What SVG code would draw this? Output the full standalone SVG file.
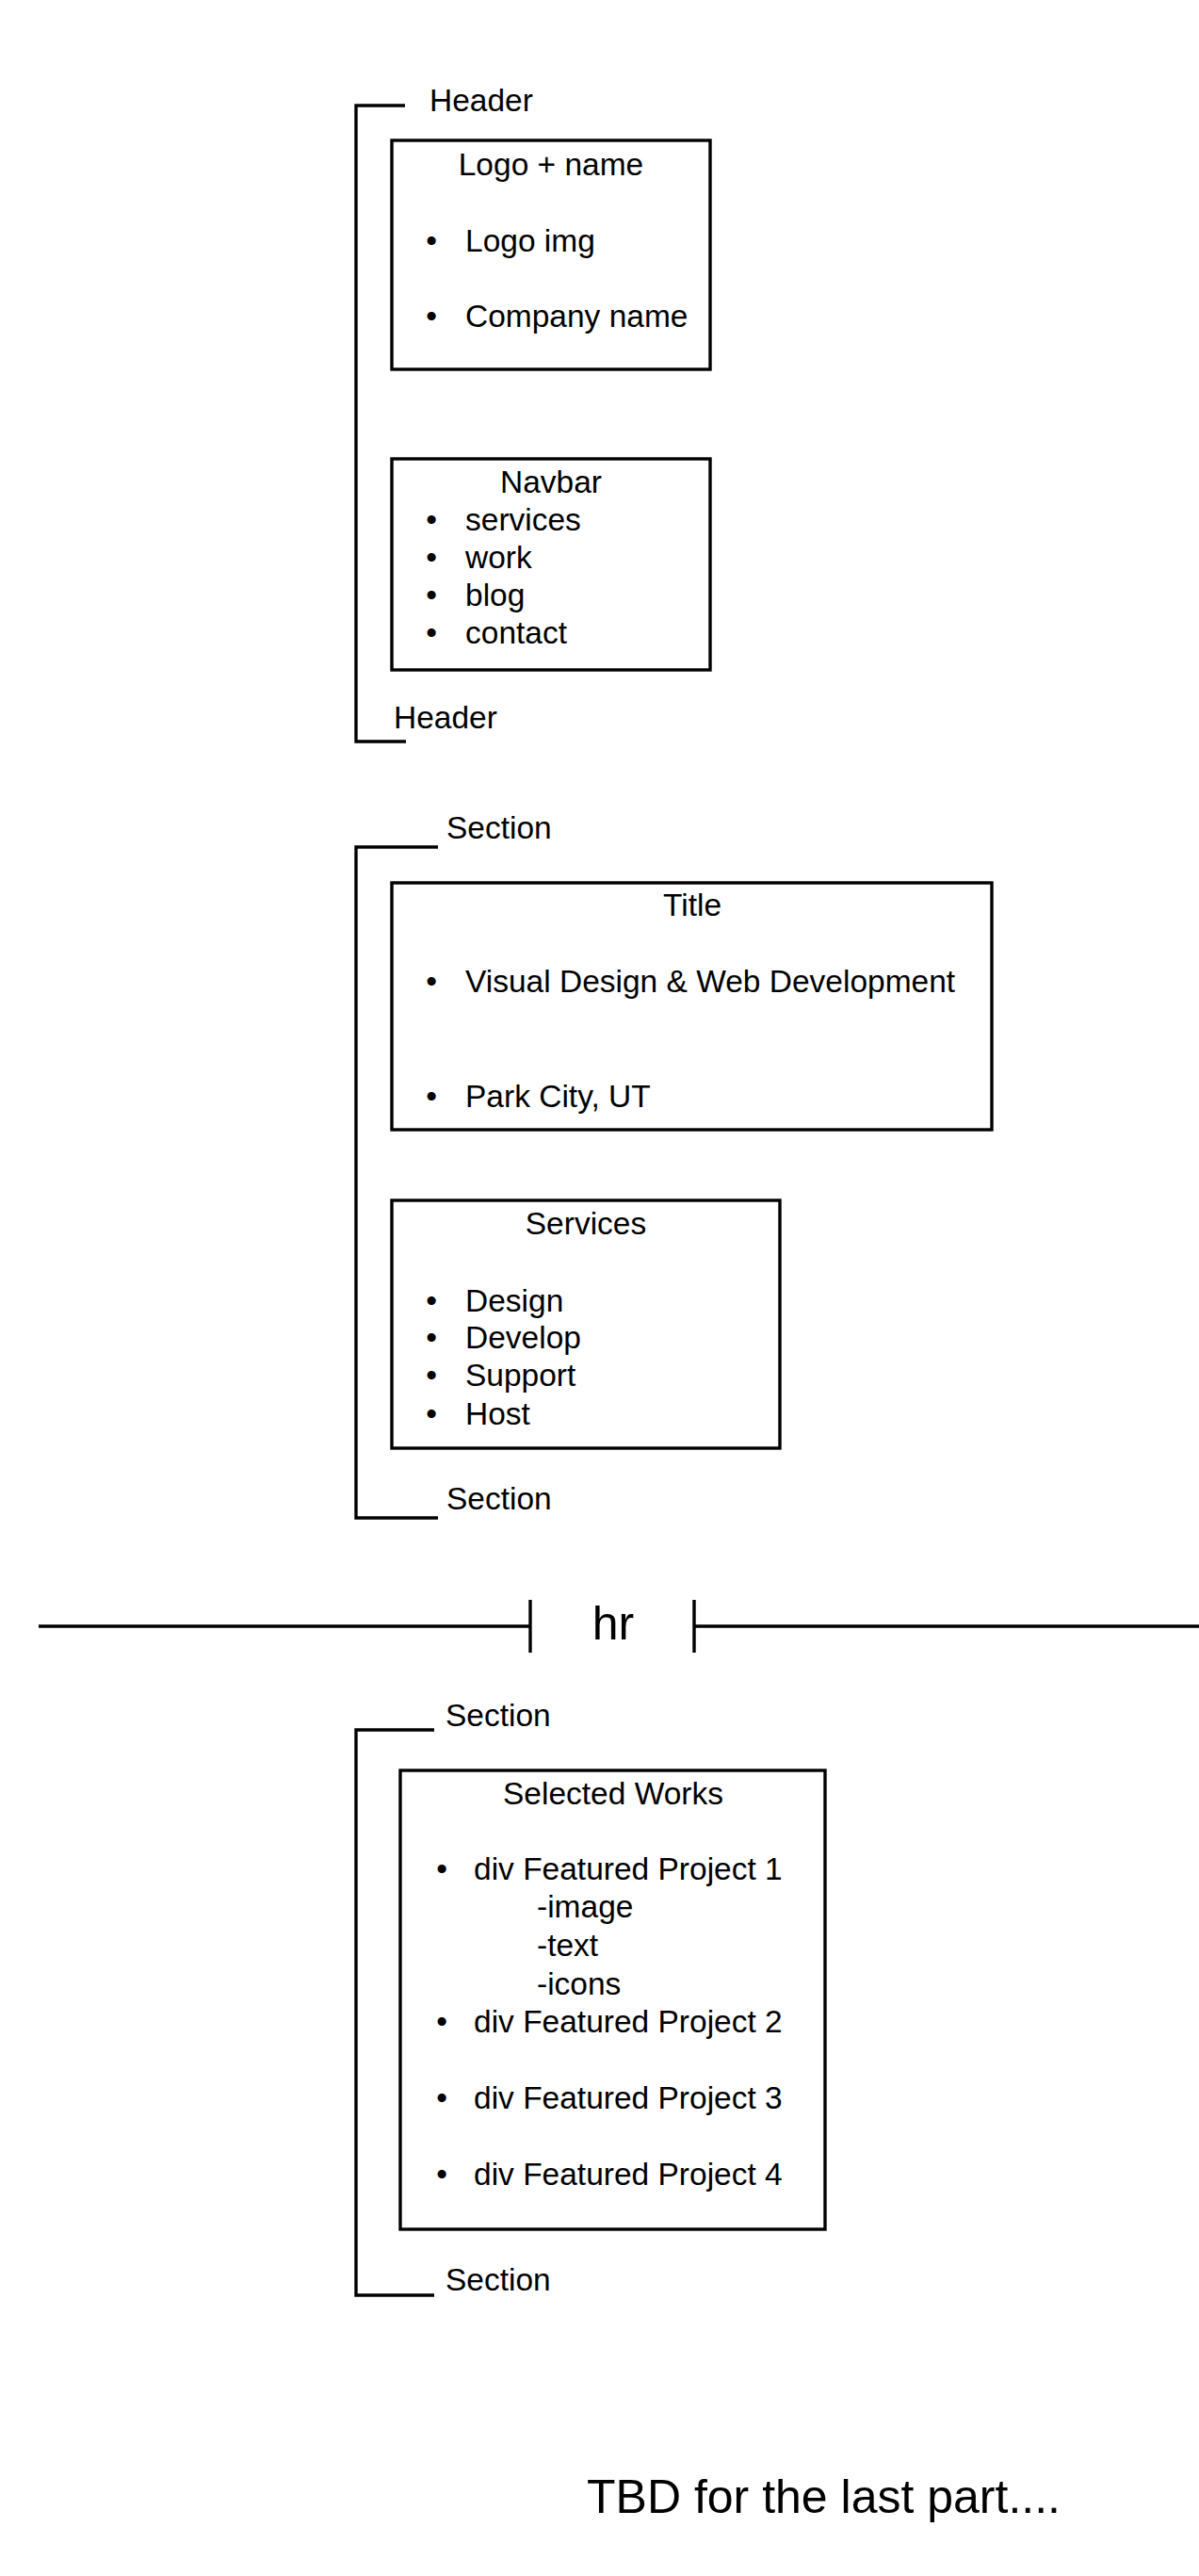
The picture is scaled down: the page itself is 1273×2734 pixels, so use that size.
<svg xmlns="http://www.w3.org/2000/svg" width="1273" height="2734" viewBox="0 0 1273 2734">
<style>
text { font-family: "Liberation Sans", Arial, sans-serif; font-size: 33.5px; fill: #000; }
.c { text-anchor: middle; }
.big { font-size: 50px; }
.box { fill: #fff; stroke: #000; stroke-width: 3.4; }
.ln { fill: none; stroke: #000; stroke-width: 3.4; }
</style>
<rect width="1273" height="2734" fill="#fff"/>
<g id="connectors">
  <path class="ln" d="M430 112 H378 V787 H431"/>
  <path class="ln" d="M465 899 H378 V1611 H465"/>
  <path class="ln" d="M461 1836 H378 V2436 H461"/>
  <path class="ln" d="M41 1726 H563 M737 1726 H1273"/>
  <path class="ln" d="M563 1698 V1754 M737 1698 V1754"/>
</g>
<g id="header-labels">
  <text x="456" y="118">Header</text>
  <text x="418" y="773">Header</text>
</g>
<g id="logo-name">
  <rect class="box" x="416" y="149" width="338" height="243"/>
  <text class="c" x="585" y="186">Logo + name</text>
  <text class="c" x="458" y="267">•</text><text x="494" y="267">Logo img</text>
  <text class="c" x="458" y="347">•</text><text x="494" y="347">Company name</text>
</g>
<g id="navbar">
  <rect class="box" x="416" y="487" width="338" height="224"/>
  <text class="c" x="585" y="523">Navbar</text>
  <text class="c" x="458" y="563">•</text><text x="494" y="563">services</text>
  <text class="c" x="458" y="603">•</text><text x="494" y="603">work</text>
  <text class="c" x="458" y="643">•</text><text x="494" y="643">blog</text>
  <text class="c" x="458" y="683">•</text><text x="494" y="683">contact</text>
</g>
<g id="section1-labels">
  <text x="474" y="890">Section</text>
  <text x="474" y="1602">Section</text>
</g>
<g id="title">
  <rect class="box" x="416" y="937" width="637" height="262"/>
  <text class="c" x="735" y="972">Title</text>
  <text class="c" x="458" y="1053">•</text><text x="494" y="1053">Visual Design &amp; Web Development</text>
  <text class="c" x="458" y="1175">•</text><text x="494" y="1175">Park City, UT</text>
</g>
<g id="services">
  <rect class="box" x="416" y="1274" width="412" height="263"/>
  <text class="c" x="622" y="1310">Services</text>
  <text class="c" x="458" y="1392">•</text><text x="494" y="1392">Design</text>
  <text class="c" x="458" y="1431">•</text><text x="494" y="1431">Develop</text>
  <text class="c" x="458" y="1471">•</text><text x="494" y="1471">Support</text>
  <text class="c" x="458" y="1512">•</text><text x="494" y="1512">Host</text>
</g>
<g id="hr">
  <text class="c big" x="651" y="1740">hr</text>
</g>
<g id="section2-labels">
  <text x="473" y="1832">Section</text>
  <text x="473" y="2431">Section</text>
</g>
<g id="selected-works">
  <rect class="box" x="425" y="1879" width="451" height="487"/>
  <text class="c" x="651" y="1915">Selected Works</text>
  <text class="c" x="469" y="1995">•</text><text x="503" y="1995">div Featured Project 1</text>
  <text x="570" y="2035">-image</text>
  <text x="570" y="2076">-text</text>
  <text x="570" y="2117">-icons</text>
  <text class="c" x="469" y="2157">•</text><text x="503" y="2157">div Featured Project 2</text>
  <text class="c" x="469" y="2238">•</text><text x="503" y="2238">div Featured Project 3</text>
  <text class="c" x="469" y="2319">•</text><text x="503" y="2319">div Featured Project 4</text>
</g>
<g id="tbd">
  <text class="big" x="623" y="2667">TBD for the last part....</text>
</g>
</svg>
